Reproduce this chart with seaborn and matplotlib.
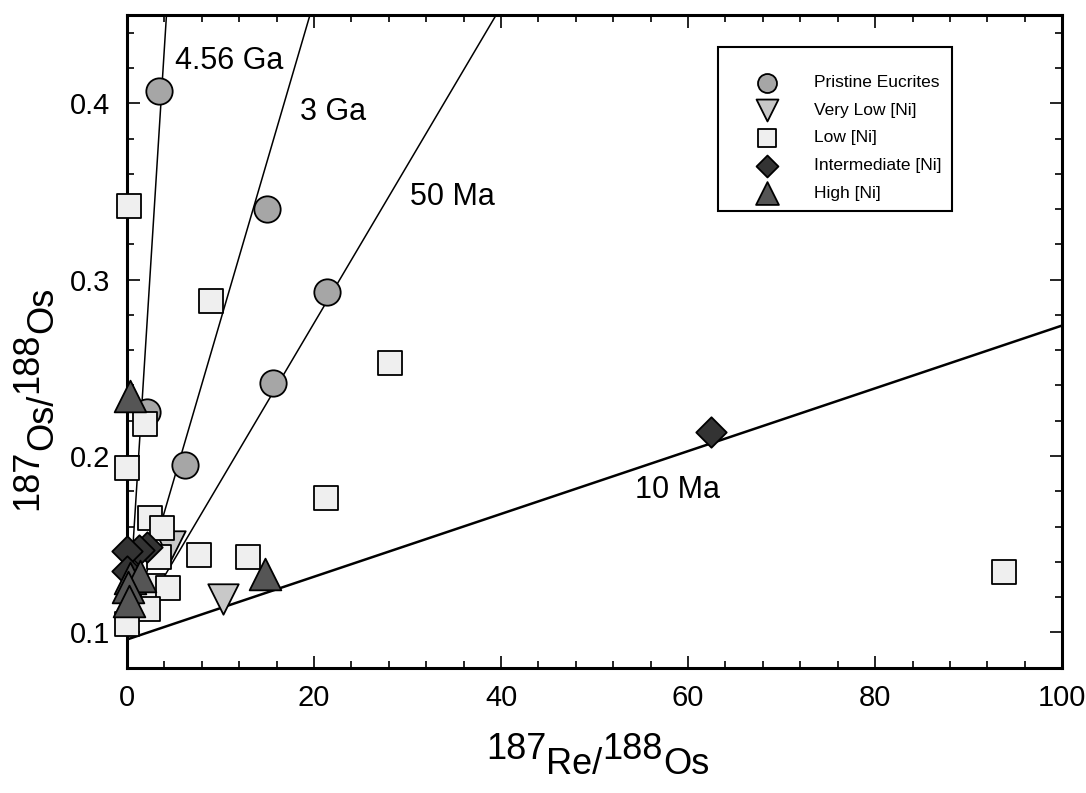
import numpy as np
import matplotlib
matplotlib.use("Agg")
import matplotlib.pyplot as plt
from matplotlib.ticker import MultipleLocator
import seaborn as sns

# ---------------------------------------------------------------- data
pristine_x = [3.4, 15.0, 21.4, 15.6, 6.2, 2.1]
pristine_y = [0.407, 0.340, 0.293, 0.2415, 0.195, 0.225]

very_low_x = [10.3, 4.6]
very_low_y = [0.119, 0.149]

low_x = [0.2, 9.0, 28.1, 1.9, 0.0, 21.3, 93.8, 7.7, 12.9, 2.4, 3.7, 3.4, 2.8, 4.4, 2.2, 0.0]
low_y = [0.342, 0.288, 0.253, 0.218, 0.193, 0.176, 0.134, 0.144, 0.143, 0.165, 0.159,
         0.1425, 0.1266, 0.125, 0.113, 0.1045]

intermediate_x = [62.5, 2.1, 1.3, 0.0, 0.0]
intermediate_y = [0.2135, 0.1487, 0.147, 0.146, 0.135]

high_x = [0.3, 14.7, 0.3, 1.4, 0.1, 0.2]
high_y = [0.234, 0.133, 0.131, 0.132, 0.126, 0.118]

group_names = ["Pristine Eucrites", "Very Low [Ni]", "Low [Ni]",
               "Intermediate [Ni]", "High [Ni]"]

# reference isochrons through a common initial ratio
iso_labels = ["4.56 Ga", "3 Ga", "50 Ma", "10 Ma"]
iso_slopes = [0.084, 0.0181, 0.00897, 0.00178]
initial_ratio = 0.096

x_ticks = [0, 20, 40, 60, 80, 100]
y_ticks = [0.1, 0.2, 0.3, 0.4]
y_tick_labels = ["0.1", "0.2", "0.3", "0.4"]

# ---------------------------------------------------------------- style
sns.set_style("ticks")
plt.rcParams["font.family"] = ["Liberation Sans", "DejaVu Sans"]
plt.rcParams["text.color"] = "black"
plt.rcParams["axes.labelcolor"] = "black"
plt.rcParams["xtick.color"] = "black"
plt.rcParams["ytick.color"] = "black"

fig = plt.figure(figsize=(10.86, 7.93), dpi=100)
ax = fig.add_axes([0.117, 0.158, 0.861, 0.823])

# isochron lines
iso_widths = [1.1, 1.1, 1.1, 1.8]
iso_text_pos = [(5.1, 0.424), (18.5, 0.395), (30.3, 0.347), (54.3, 0.181)]
line_x = np.array([0.0, 100.0])
for lab, slope, lw, (tx, ty) in zip(iso_labels, iso_slopes, iso_widths, iso_text_pos):
    sns.lineplot(x=line_x, y=initial_ratio + slope * line_x, ax=ax,
                 color="black", linewidth=lw, zorder=1.5)
    ax.text(tx, ty, lab, fontsize=22, ha="left", va="center", color="black")

# sample groups (drawn back to front)
styles = {
    "Pristine Eucrites": ("o", 360, "#a6a6a6"),
    "Very Low [Ni]": ("v", 480, "#c8c8c8"),
    "Low [Ni]": ("s", 300, "#efefef"),
    "Intermediate [Ni]": ("D", 240, "#333333"),
    "High [Ni]": ("^", 520, "#555555"),
}
values = {
    "Pristine Eucrites": (pristine_x, pristine_y),
    "Very Low [Ni]": (very_low_x, very_low_y),
    "Low [Ni]": (low_x, low_y),
    "Intermediate [Ni]": (intermediate_x, intermediate_y),
    "High [Ni]": (high_x, high_y),
}
handles = {}
for name in group_names:
    xs, ys = values[name]
    mk, size, col = styles[name]
    n_before = len(ax.collections)
    sns.scatterplot(x=xs, y=ys, ax=ax, marker=mk, s=size, color=col,
                    edgecolor="black", linewidth=1.3, zorder=3,
                    clip_on=False, label=name, legend=False)
    handles[name] = ax.collections[n_before]

leg = ax.legend([handles[n] for n in group_names], group_names,
                loc="upper right", bbox_to_anchor=(0.882, 0.951),
                borderaxespad=0, frameon=True, fancybox=False,
                framealpha=1, edgecolor="black", fontsize=12.5,
                markerscale=0.72, scatterpoints=1, handlelength=4.4,
                handletextpad=0.5, borderpad=0.6, labelspacing=0.72,
                title=" ", title_fontsize=4)
leg.get_frame().set_linewidth(1.5)

# axes
ax.set_xlim(0, 100)
ax.set_ylim(0.08, 0.45)
ax.set_xticks(x_ticks)
ax.set_xticklabels([str(v) for v in x_ticks])
ax.set_yticks(y_ticks)
ax.set_yticklabels(y_tick_labels)
ax.xaxis.set_minor_locator(MultipleLocator(4))
ax.yaxis.set_minor_locator(MultipleLocator(0.02))
ax.tick_params(which="both", direction="in", top=True, right=True,
               color="black", labelcolor="black", width=1.2)
ax.tick_params(which="major", length=9, labelsize=21, pad=12)
ax.tick_params(which="minor", length=5)
for sp in ax.spines.values():
    sp.set_linewidth(2.2)
    sp.set_color("black")
ax.set_xlabel("")
ax.set_ylabel("")


def isotope_label(fig, parts, x, y, rotation, size, shift):
    """Draw a ratio label whose mass numbers sit raised above the symbols."""
    first = fig.text(x, y, parts[0], fontsize=size, rotation=rotation,
                     ha="left", va="bottom", color="black",
                     transform=fig.transFigure)
    prev = first
    raised = True
    for piece in parts[1:]:
        raised = not raised
        step = shift if raised else -shift
        if rotation == 0:
            xy, off = (1, 0), (0, step)
        else:
            xy, off = (0, 1), (-step, 0)
        prev = fig.axes[0].annotate(piece, xy=xy, xycoords=prev,
                                    xytext=off, textcoords="offset points",
                                    fontsize=size, rotation=rotation,
                                    ha="left", va="bottom", color="black",
                                    annotation_clip=False)
    return first


isotope_label(fig, ["187", "Re/", "188", "Os"], 486 / 1086, 26 / 793, 0, 26, 11)
isotope_label(fig, ["187", "Os/", "188", "Os"], 10 / 1086, 283 / 793, 90, 26, 11)

fig.savefig("out.png", dpi=100)
